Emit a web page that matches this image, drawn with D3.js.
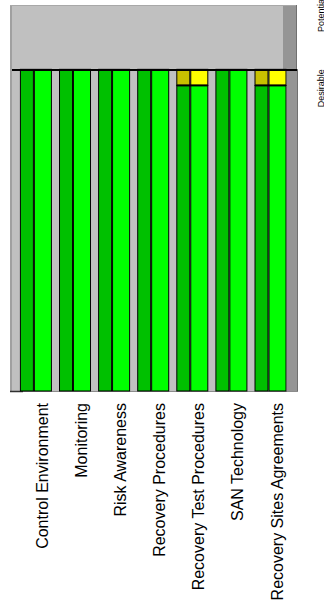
<!DOCTYPE html>
<html><head><meta charset="utf-8">
<script src="https://cdn.jsdelivr.net/npm/d3@7"></script>
<style>html,body{margin:0;padding:0;background:#fff;}svg{display:block;}</style>
</head><body>
<svg id="c" width="324" height="611"></svg>
<script>
const categories = ["Control Environment","Monitoring","Risk Awareness","Recovery Procedures","Recovery Test Procedures","SAN Technology","Recovery Sites Agreements"];
const seriesNames = ["Current","Target"];
const greenCurrent = [100,100,100,100,95,100,95];
const yellowCurrent = [0,0,0,0,5,0,5];
const greenTarget = [100,100,100,100,95,100,95];
const yellowTarget = [0,0,0,0,5,0,5];
const levelNames = ["Desirable","Potential"];
const levelValues = [100,122.5];

(function(){
const svg = d3.select("#c");
const font = "'Liberation Sans', Arial, sans-serif";
const pL = 10, pR = 298, pT = 5, pB = 391;

const y = d3.scaleLinear().domain([0,120]).range([pB, pT]);
const x0 = d3.scaleBand().domain(categories).range([17, 290.7]).paddingInner(0.2).paddingOuter(0.1);
const bw = x0.bandwidth();
const yD = y(levelValues[0]);

// plot background
svg.append("rect").attr("x", pL).attr("y", pT).attr("width", 286).attr("height", yD-pT).attr("fill", "#c0c0c0");
svg.append("rect").attr("x", 283).attr("y", pT).attr("width", 13).attr("height", yD-pT).attr("fill", "#959595");
svg.append("rect").attr("x", pL).attr("y", yD).attr("width", pR-pL).attr("height", pB-yD).attr("fill", "#c0c0c0");
svg.append("rect").attr("x", 287).attr("y", yD).attr("width", pR-287).attr("height", pB-yD).attr("fill", "#959595");
svg.append("rect").attr("x", pL).attr("y", pT).attr("width", 2).attr("height", pB-pT).attr("fill", "#a0a0a0");
// outline edges
svg.append("line").attr("x1", pL).attr("x2", 296).attr("y1", pT+0.5).attr("y2", pT+0.5).attr("stroke", "#a8a8a8");
svg.append("line").attr("x1", 296.5).attr("x2", 296.5).attr("y1", pT).attr("y2", yD).attr("stroke", "#707070");
svg.append("line").attr("x1", 297.5).attr("x2", 297.5).attr("y1", yD).attr("y2", pB).attr("stroke", "#707070");
svg.append("line").attr("x1", pL).attr("x2", pR).attr("y1", pB+0.5).attr("y2", pB+0.5).attr("stroke", "#8c8c8c");
svg.append("line").attr("x1", pL).attr("x2", 23).attr("y1", pB+0.5).attr("y2", pB+0.5).attr("stroke", "#303030").attr("stroke-width", 1.5);

// bars
const series = [
  {name: seriesNames[0], green: greenCurrent, yellow: yellowCurrent, gc: "#00c000", yc: "#c8c000", off: -0.5, w: bw*0.415},
  {name: seriesNames[1], green: greenTarget, yellow: yellowTarget, gc: "#00ff00", yc: "#ffff00", off: bw*0.43, w: bw*0.545}
];
series.forEach(s => {
  const g = svg.append("g");
  g.selectAll("rect.g").data(categories).join("rect")
    .attr("x", d => x0(d) + s.off)
    .attr("y", (d,i) => y(s.green[i]))
    .attr("width", s.w)
    .attr("height", (d,i) => y(0) - y(s.green[i]))
    .attr("fill", s.gc).attr("stroke", "#000").attr("stroke-width", 1);
  g.selectAll("rect.y").data(categories.filter((d,i)=>s.yellow[i]>0)).join("rect")
    .attr("x", d => x0(d) + s.off)
    .attr("y", d => { const i = categories.indexOf(d); return y(s.green[i]+s.yellow[i]); })
    .attr("width", s.w)
    .attr("height", d => { const i = categories.indexOf(d); return y(s.green[i]) - y(s.green[i]+s.yellow[i]); })
    .attr("fill", s.yc).attr("stroke", "#000").attr("stroke-width", 1);
});
svg.selectAll("line.sep").data(categories.filter((d,i)=>yellowCurrent[i]>0)).join("line")
  .attr("x1", d => x0(d) - 0.5).attr("x2", d => x0(d) + bw*0.43 + bw*0.545)
  .attr("y1", d => y(greenCurrent[categories.indexOf(d)])).attr("y2", d => y(greenCurrent[categories.indexOf(d)]))
  .attr("stroke", "#000").attr("stroke-width", 2);

// Desirable line
svg.append("line").attr("x1", 12).attr("x2", 297).attr("y1", yD+0.7).attr("y2", yD+0.7)
  .attr("stroke", "#000").attr("stroke-width", 2);

// category labels
svg.selectAll("text.cat").data(categories).join("text")
  .attr("transform", d => `translate(${x0(d)+27},403) rotate(-90)`)
  .attr("text-anchor", "end")
  .attr("font-family", font).attr("font-size", 16).attr("fill", "#000")
  .text(d => d);

// level labels
svg.selectAll("text.lvl").data(levelNames).join("text")
  .attr("transform", (d,i) => `translate(323.5,${y(levelValues[i])}) rotate(-90)`)
  .attr("text-anchor", "end")
  .attr("font-family", font).attr("font-size", 9).attr("fill", "#000")
  .text(d => d);
})();
</script>
</body></html>
